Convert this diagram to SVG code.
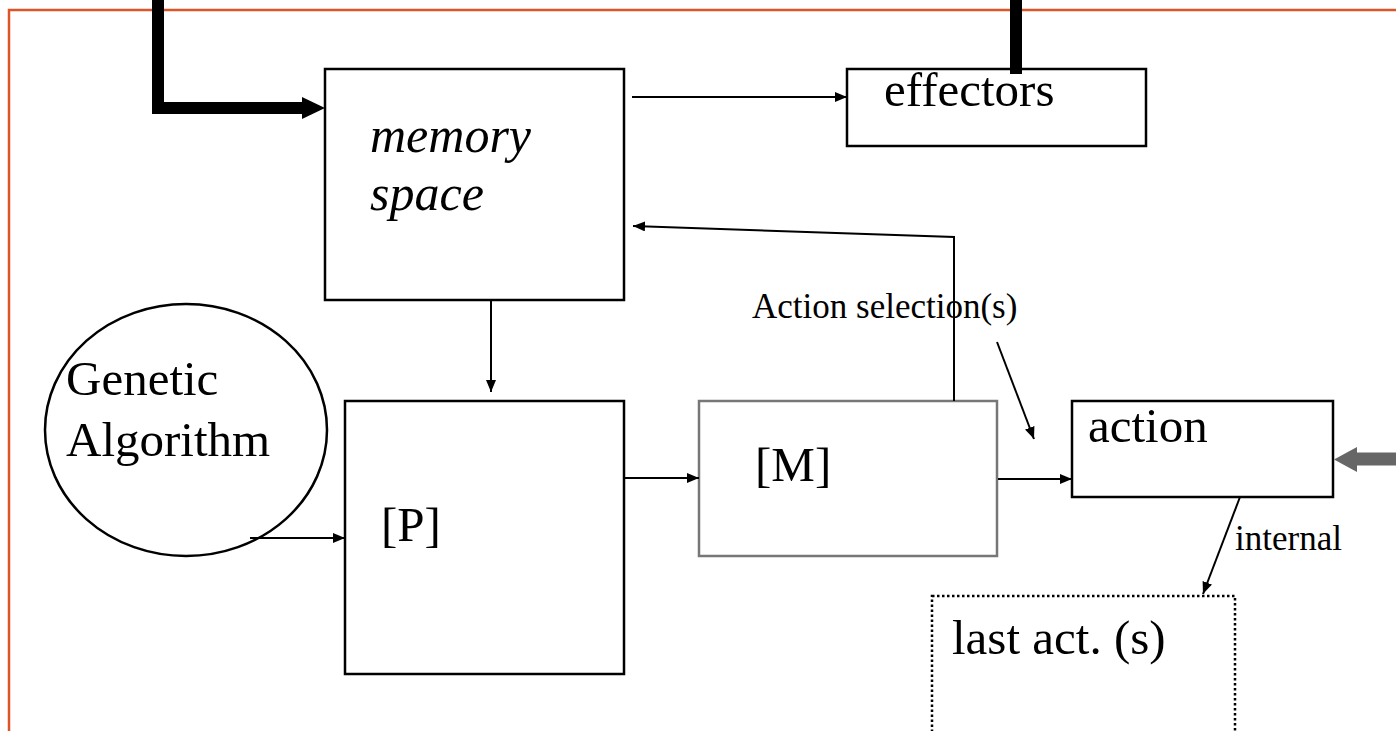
<svg xmlns="http://www.w3.org/2000/svg" width="1396" height="731" viewBox="0 0 1396 731">
<defs>
<style>
.box{fill:#fff;stroke:#000;stroke-width:2.5}
.gbox{fill:#fff;stroke:#777;stroke-width:2.5}
.t{font-family:"Liberation Serif","Times New Roman",serif;fill:#000}
.big{font-size:49px}
.small{font-size:35px}
.ln{fill:none;stroke:#000;stroke-width:2}
</style>
<marker id="ah" markerWidth="12" markerHeight="10" refX="12" refY="5" orient="auto" markerUnits="userSpaceOnUse">
<path d="M0,0 L12,5 L0,10 Z" fill="#000"/>
</marker>
</defs>
<rect width="1396" height="731" fill="#fff"/>
<rect id="frame" x="9" y="10" width="1420" height="760" fill="none" stroke="#DC5529" stroke-width="2.5"/>

<g id="memory">
<rect class="box" x="325" y="69" width="299" height="231"/>
<text class="t big" x="370" y="152" font-style="italic" style="font-size:50px">memory</text>
<text class="t big" x="370" y="210" font-style="italic" style="font-size:50px">space</text>
</g>
<g id="effectors">
<rect class="box" x="847" y="69" width="299" height="77"/>
<text class="t big" x="884" y="106">effectors</text>
</g>
<g id="ga">
<ellipse cx="186" cy="430" rx="141" ry="126" fill="#fff" stroke="#000" stroke-width="2.5"/>
<text class="t big" x="66" y="395">Genetic</text>
<text class="t big" x="66" y="456">Algorithm</text>
</g>
<g id="P">
<rect class="box" x="345" y="401" width="279" height="273"/>
<text class="t big" x="381" y="541">[P]</text>
</g>
<g id="M">
<rect class="gbox" x="699" y="401" width="298" height="155"/>
<text class="t big" x="755" y="481">[M]</text>
</g>
<g id="action">
<rect class="box" x="1072" y="401" width="261" height="96"/>
<text class="t big" x="1088" y="442">action</text>
</g>
<g id="last">
<rect x="932" y="596" width="303" height="150" fill="#fff" stroke="#000" stroke-width="2.5" stroke-dasharray="2.5,2.5"/>
<text class="t big" x="952" y="654">last act. (s)</text>
</g>

<g id="connectors">
<path d="M158,0 V108 H303" fill="none" stroke="#000" stroke-width="12"/>
<path d="M302,97 L325,108 L302,119 Z" fill="#000"/>
<path d="M1016,0 V74" fill="none" stroke="#000" stroke-width="12"/>
<path d="M1396,459 H1356" fill="none" stroke="#666" stroke-width="13"/>
<path d="M1357,447 L1334,459.5 L1357,472 Z" fill="#666"/>
<line class="ln" x1="632" y1="97" x2="847" y2="97" marker-end="url(#ah)"/>
<line class="ln" x1="491" y1="300" x2="491" y2="392" marker-end="url(#ah)"/>
<line class="ln" x1="250" y1="538" x2="345" y2="538" marker-end="url(#ah)"/>
<line class="ln" x1="624" y1="478" x2="699" y2="478" marker-end="url(#ah)"/>
<line class="ln" x1="998" y1="479" x2="1072" y2="479" marker-end="url(#ah)"/>
<polyline class="ln" points="954,401 954,237 633,226" marker-end="url(#ah)"/>
<line class="ln" x1="997" y1="342" x2="1034" y2="439" marker-end="url(#ah)"/>
<line class="ln" x1="1240" y1="497" x2="1203" y2="594" marker-end="url(#ah)"/>
<text class="t small" x="752" y="318">Action selection(s)</text>
<text class="t small" x="1235" y="550">internal</text>
</g>
</svg>
